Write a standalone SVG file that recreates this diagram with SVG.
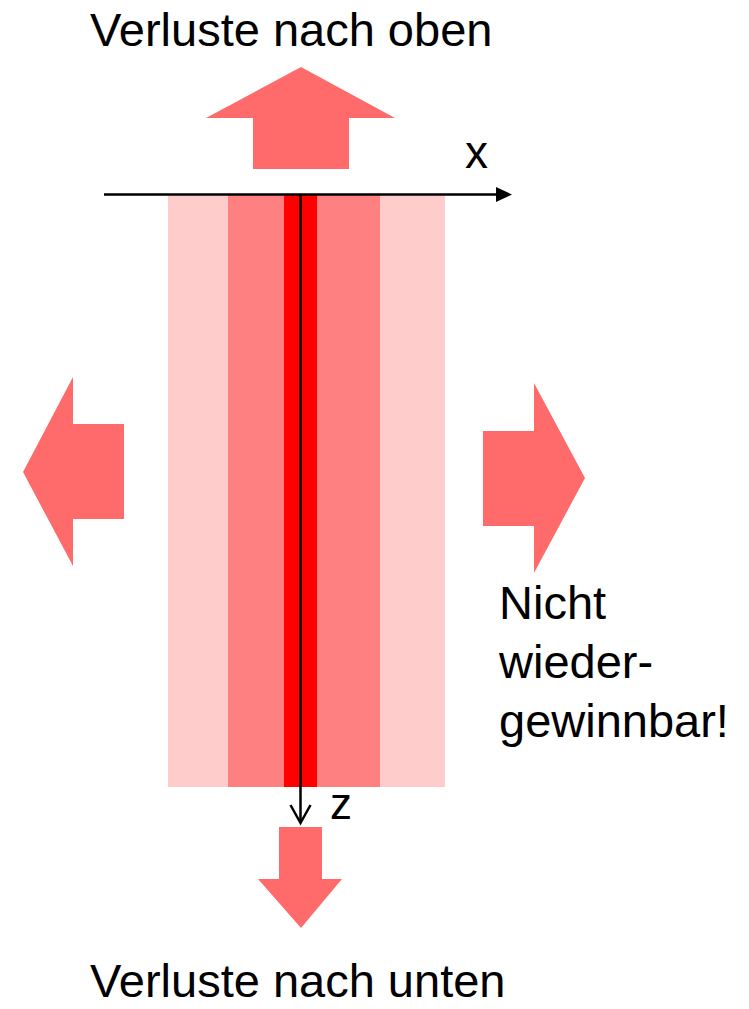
<svg xmlns="http://www.w3.org/2000/svg" width="749" height="1009" viewBox="0 0 749 1009">
<style>
.lbl{font-family:"Liberation Sans",Arial,sans-serif;fill:#000}
.loss{fill:#ff6b6b}
.axis{stroke:#000;stroke-width:2.5;fill:none}
</style>
<rect width="749" height="1009" fill="#fff"/>
<g id="layers">
<rect x="168" y="195" width="60" height="592" fill="#ffcccc"/>
<rect x="380" y="195" width="65" height="592" fill="#ffcccc"/>
<rect x="228" y="195" width="56" height="592" fill="#ff8080"/>
<rect x="317" y="195" width="63" height="592" fill="#ff8080"/>
<rect x="284" y="195" width="33" height="592" fill="#ff0000"/>
</g>
<g id="arrow-up"><polygon class="loss" points="301,67 395,118 349,118 349,169 253,169 253,118 206,118"/></g>
<g id="arrow-left"><polygon class="loss" points="23,472 73,377 73,424 124,424 124,519 73,519 73,566"/></g>
<g id="arrow-right"><polygon class="loss" points="585,478 534,383 534,431 483,431 483,526 534,526 534,573"/></g>
<g id="arrow-down"><polygon class="loss" points="301,928 342,879 322,879 322,827 279,827 279,879 258,879"/></g>
<g id="connectors">
<line class="axis" x1="104" y1="194.5" x2="498" y2="194.5"/>
<polygon points="512,194.5 496,187 496,202" fill="#000"/>
<line class="axis" x1="300.5" y1="195" x2="300.5" y2="822"/>
<polyline class="axis" points="290.5,805 300.5,823 310.5,805"/>
</g>
<g id="labels">
<text class="lbl" x="90" y="46" font-size="47">Verluste nach oben</text>
<text class="lbl" x="90" y="997" font-size="47">Verluste nach unten</text>
<text class="lbl" x="465" y="168" font-size="46">x</text>
<text class="lbl" x="330" y="819" font-size="44">z</text>
<text class="lbl" x="499" y="619" font-size="47">Nicht</text>
<text class="lbl" x="499" y="678" font-size="47">wieder-</text>
<text class="lbl" x="499" y="737" font-size="47">gewinnbar!</text>
</g>
</svg>
